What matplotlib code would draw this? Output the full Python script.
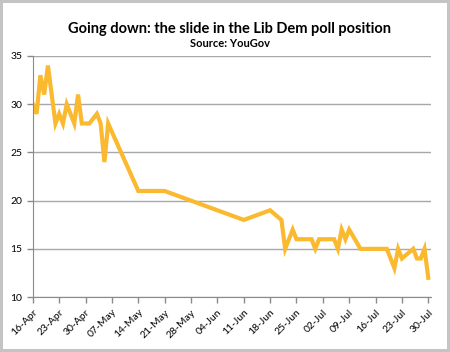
import pandas as pd
import matplotlib
matplotlib.use("Agg")
import matplotlib.pyplot as plt

# YouGov Lib Dem voting intention (2010)
dates = ["2010-04-16", "2010-04-17", "2010-04-18", "2010-04-19", "2010-04-20",
         "2010-04-22", "2010-04-23", "2010-04-24", "2010-04-25", "2010-04-27",
         "2010-04-28", "2010-04-29", "2010-05-01", "2010-05-03", "2010-05-04",
         "2010-05-05", "2010-05-06", "2010-05-14", "2010-05-21", "2010-06-11",
         "2010-06-18", "2010-06-21", "2010-06-22", "2010-06-24", "2010-06-25",
         "2010-06-29", "2010-06-30", "2010-07-01", "2010-07-05", "2010-07-06",
         "2010-07-07", "2010-07-08", "2010-07-09", "2010-07-12", "2010-07-19",
         "2010-07-21", "2010-07-22", "2010-07-23", "2010-07-26", "2010-07-27",
         "2010-07-28", "2010-07-29", "2010-07-30"]
libdem = [30, 29, 33, 31, 34,
          28, 29, 28, 30, 28,
          31, 28, 28, 29, 28,
          24, 28, 21, 21, 18,
          19, 18, 15, 17, 16,
          16, 15, 16, 16, 15,
          17, 16, 17, 15, 15,
          13, 15, 14, 15, 14,
          14, 15, 12]

x = pd.to_datetime(dates)

plt.rcParams['font.family'] = ['Lato', 'DejaVu Sans']

fig = plt.figure(figsize=(4.5, 3.52), dpi=100)
fig.patch.set_edgecolor('#c4c4c4')
fig.patch.set_linewidth(3)
ax = fig.add_axes([0.073, 0.156, 0.885, 0.685])

ax.plot(x, libdem, color='#fbb92f', linewidth=3, solid_joinstyle='miter')

ax.set_ylim(10, 35)
ax.set_yticks([10, 15, 20, 25, 30, 35])
ax.set_xlim(pd.Timestamp("2010-04-16"), pd.Timestamp("2010-07-30 18:00"))
ticks = pd.date_range("2010-04-16", "2010-07-30", freq="7D")
ax.set_xticks(ticks)
ax.set_xticklabels([t.strftime("%d-%b") for t in ticks], rotation=45, ha='right',
                   rotation_mode='anchor')

ax.grid(axis='y', color='#a8a8a8', linewidth=1)
ax.set_axisbelow(True)
for s in ['top', 'right']:
    ax.spines[s].set_visible(False)
for s in ['left', 'bottom']:
    ax.spines[s].set_color('#8a8a8a')
ax.tick_params(axis='both', colors='#8a8a8a', labelcolor='black', labelsize=7.5,
               length=4, width=1)

fig.text(0.51, 0.905, "Going down: the slide in the Lib Dem poll position",
         ha='center', fontsize=10.5, fontweight='bold')
fig.text(0.51, 0.866, "Source: YouGov", ha='center', fontsize=8, fontweight='bold')

fig.savefig("out.png", dpi=100, edgecolor=fig.get_edgecolor())
